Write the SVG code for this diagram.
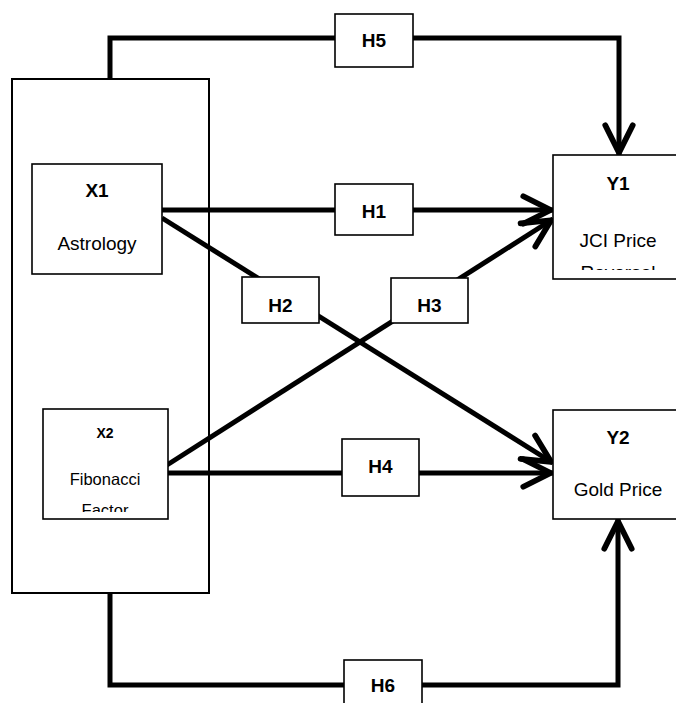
<svg xmlns="http://www.w3.org/2000/svg" width="676" height="703" viewBox="0 0 676 703">
<style>
.box{fill:#fff;stroke:#000;stroke-width:1.6}
.big{fill:none;stroke:#000;stroke-width:2}
.conn{fill:none;stroke:#000;stroke-width:5;stroke-linejoin:miter}
.t{font-family:"Liberation Sans",Arial,sans-serif;fill:#000;text-anchor:middle}
.h{font-weight:bold;font-size:19px}
.n{font-size:19px}
</style>
<defs>
<marker id="arr" markerUnits="userSpaceOnUse" markerWidth="40" markerHeight="40" viewBox="-30 -15 35 30" refX="2" refY="0" orient="auto">
<path d="M-24,-12 L0,0 L-24,12" fill="none" stroke="#000" stroke-width="5" stroke-linecap="round" stroke-linejoin="round"/>
</marker>
<clipPath id="cy1"><rect x="554" y="156" width="130" height="114"/></clipPath>
<clipPath id="cx2"><rect x="44" y="410" width="123" height="102"/></clipPath>
</defs>
<rect width="676" height="703" fill="#fff"/>
<g id="frame"><rect class="big" x="12" y="79" width="197" height="514"/></g>
<g id="connectors">
<path class="conn" d="M162,210 L553,210" marker-end="url(#arr)"/>
<path class="conn" d="M162,218 L553,463" marker-end="url(#arr)"/>
<path class="conn" d="M167,465 L553,219" marker-end="url(#arr)"/>
<path class="conn" d="M167,473 L553,473" marker-end="url(#arr)"/>
<path class="conn" d="M110,79 L110,38 L619,38 L619,155" marker-end="url(#arr)"/>
<path class="conn" d="M110,593 L110,685 L618,685 L618,519" marker-end="url(#arr)"/>
</g>
<g id="x1"><rect class="box" x="32" y="164" width="130" height="110"/>
<text class="t h" x="97" y="197">X1</text>
<text class="t n" x="97" y="250">Astrology</text></g>
<g id="x2"><rect class="box" x="43" y="409" width="125" height="110"/>
<text class="t" x="105" y="438" font-size="14" font-weight="bold">X2</text>
<g clip-path="url(#cx2)"><text class="t" x="105" y="485" font-size="16.5">Fibonacci</text>
<text class="t" x="105" y="516" font-size="16.5">Factor</text></g></g>
<g id="y1"><rect class="box" x="553" y="155" width="130" height="124"/>
<text class="t h" x="618" y="190">Y1</text>
<text class="t n" x="618" y="247">JCI Price</text>
<text class="t n" x="618" y="279" clip-path="url(#cy1)">Reversal</text></g>
<g id="y2"><rect class="box" x="553" y="410" width="130" height="109"/>
<text class="t h" x="618" y="444">Y2</text>
<text class="t n" x="618" y="496">Gold Price</text></g>
<g id="h1"><rect class="box" x="335" y="184" width="78" height="51"/><text class="t h" x="374" y="218">H1</text></g>
<g id="h2"><rect class="box" x="242" y="277" width="77" height="46"/><text class="t h" x="280.5" y="312">H2</text></g>
<g id="h3"><rect class="box" x="391" y="278" width="77" height="45"/><text class="t h" x="429.5" y="312">H3</text></g>
<g id="h4"><rect class="box" x="342" y="439" width="77" height="57"/><text class="t h" x="380.5" y="473">H4</text></g>
<g id="h5"><rect class="box" x="335" y="14" width="78" height="53"/><text class="t h" x="374" y="47">H5</text></g>
<g id="h6"><rect class="box" x="344" y="660" width="78" height="60"/><text class="t h" x="383" y="692">H6</text></g>
</svg>
